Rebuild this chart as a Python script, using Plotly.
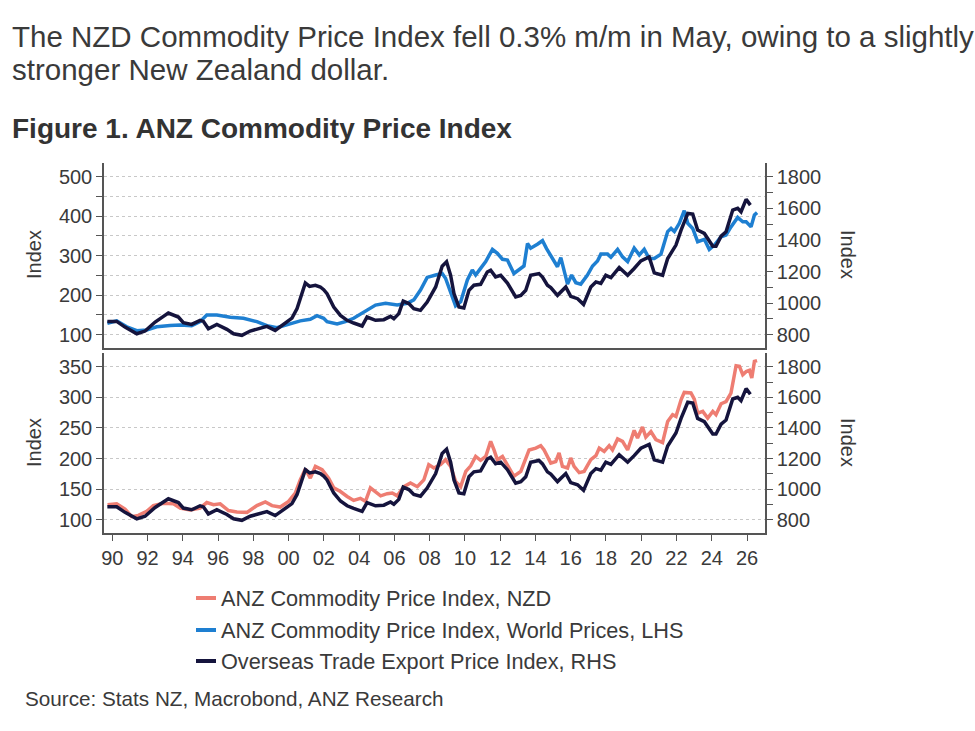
import plotly.graph_objects as go

# ---------------- data ----------------
oti_x = [1989.72, 1990.25, 1990.72, 1991.39, 1991.86, 1992.43, 1992.90, 1993.18, 1993.75, 1994.03,
         1994.50, 1994.98, 1995.17, 1995.45, 1995.93, 1996.50, 1996.88, 1997.35, 1997.82, 1998.39,
         1998.77, 1999.24, 1999.72, 2000.19, 2000.48, 2000.76, 2000.95, 2001.19, 2001.52, 2001.80,
         2001.99, 2002.18, 2002.56, 2002.94, 2003.32, 2003.69, 2004.17, 2004.45, 2004.93, 2005.40,
         2005.78, 2005.97, 2006.25, 2006.50, 2006.82, 2007.10, 2007.48, 2007.86, 2008.34, 2008.71,
         2008.96, 2009.19, 2009.38, 2009.66, 2009.94, 2010.23, 2010.51, 2010.89, 2011.27, 2011.46,
         2011.74, 2012.03, 2012.41, 2012.88, 2013.17, 2013.45, 2013.73, 2014.20, 2014.40, 2014.68,
         2014.87, 2015.25, 2015.72, 2016.00, 2016.39, 2016.73, 2017.14, 2017.43, 2017.71, 2017.99,
         2018.28, 2018.75, 2019.23, 2019.60, 2019.98, 2020.45, 2020.74, 2021.21, 2021.50, 2021.97,
         2022.26, 2022.64, 2022.92, 2023.20, 2023.58, 2024.06, 2024.24, 2024.53, 2024.81, 2025.19,
         2025.47, 2025.66, 2025.95, 2026.19]
oti_y = [884, 884, 848, 806, 823, 880, 916, 937, 912, 876,
         865, 891, 884, 838, 865, 834, 806, 796, 823, 842,
         853, 827, 865, 905, 965, 1070, 1127, 1106, 1113, 1102,
         1085, 1060, 975, 922, 891, 874, 855, 912, 891, 895,
         916, 901, 933, 1013, 997, 965, 954, 1007, 1102, 1233,
         1261, 1176, 1060, 975, 969, 1081, 1113, 1119, 1197, 1208,
         1166, 1176, 1127, 1039, 1049, 1081, 1176, 1187, 1165, 1113,
         1098, 1049, 1102, 1043, 1028, 992, 1102, 1134, 1124, 1176,
         1162, 1225, 1176, 1219, 1267, 1292, 1191, 1176, 1282, 1367,
         1462, 1568, 1563, 1462, 1441, 1360, 1360, 1424, 1451, 1589,
         1600, 1578, 1657, 1620]

world_x = [1989.72, 1990.25, 1990.82, 1991.39, 1991.95, 1992.52, 1993.28, 1993.85, 1994.50, 1994.98,
           1995.36, 1995.93, 1996.69, 1997.44, 1998.20, 1998.77, 1999.34, 2000.10, 2000.66, 2001.23,
           2001.61, 2001.99, 2002.18, 2002.75, 2003.22, 2003.69, 2004.26, 2004.93, 2005.50, 2006.16,
           2006.73, 2007.10, 2007.48, 2007.86, 2008.34, 2008.71, 2008.90, 2009.19, 2009.47, 2009.76,
           2010.14, 2010.42, 2010.61, 2010.89, 2011.18, 2011.56, 2011.84, 2012.13, 2012.41, 2012.78,
           2013.17, 2013.35, 2013.55, 2013.73, 2014.11, 2014.40, 2014.63, 2014.97, 2015.25, 2015.44,
           2015.63, 2015.82, 2016.05, 2016.29, 2016.57, 2016.95, 2017.24, 2017.52, 2017.71, 2018.09,
           2018.28, 2018.66, 2018.94, 2019.23, 2019.60, 2019.89, 2020.17, 2020.45, 2020.74, 2021.12,
           2021.50, 2021.69, 2021.88, 2022.16, 2022.44, 2022.64, 2022.92, 2023.20, 2023.58, 2023.86,
           2024.15, 2024.53, 2024.81, 2025.09, 2025.47, 2025.76, 2025.95, 2026.23, 2026.42, 2026.57]
world_y = [129, 135, 120, 110, 112, 120, 123, 124.5, 123, 133,
           150, 150, 144, 141.5, 133, 123, 117.7, 129, 135, 139,
           148, 141.5, 133, 127, 133, 141.5, 158, 175, 179.5, 175,
           179.5, 188, 213, 245, 251, 255, 243, 205, 173, 183.5,
           238.5, 264, 251, 268, 285, 316, 306, 291, 289, 255,
           268, 274, 331, 319, 329, 338, 318, 293, 272, 295,
           264, 228, 251, 231.6, 228, 251, 274, 286.6, 304, 304,
           296, 316, 297, 285, 319, 302, 316, 293, 293, 304,
           361, 369, 361, 382, 414, 382, 369, 335.5, 341.5, 316,
           327, 348, 352, 373, 397, 386, 386, 373, 403, 409]

nzd_x = [1989.73, 1990.25, 1990.72, 1991.10, 1991.48, 1991.95, 1992.33, 1992.90, 1993.47, 1993.85,
         1994.41, 1994.98, 1995.36, 1995.74, 1996.12, 1996.59, 1997.07, 1997.64, 1998.20, 1998.68,
         1999.06, 1999.53, 2000.00, 2000.38, 2000.66, 2000.95, 2001.23, 2001.52, 2001.90, 2002.27,
         2002.56, 2002.94, 2003.32, 2003.69, 2004.07, 2004.36, 2004.64, 2004.93, 2005.22, 2005.59,
         2005.88, 2006.16, 2006.54, 2006.91, 2007.30, 2007.67, 2007.95, 2008.24, 2008.62, 2008.90,
         2009.19, 2009.47, 2009.76, 2010.05, 2010.33, 2010.61, 2010.89, 2011.18, 2011.46, 2011.65,
         2011.84, 2012.13, 2012.41, 2012.78, 2013.17, 2013.45, 2013.64, 2014.02, 2014.30, 2014.49,
         2014.87, 2015.15, 2015.34, 2015.53, 2015.82, 2016.00, 2016.19, 2016.48, 2016.76, 2017.14,
         2017.43, 2017.62, 2017.90, 2018.18, 2018.37, 2018.66, 2018.94, 2019.23, 2019.60, 2019.79,
         2020.07, 2020.26, 2020.55, 2020.83, 2021.21, 2021.50, 2021.78, 2021.97, 2022.26, 2022.44,
         2022.82, 2023.01, 2023.20, 2023.49, 2023.77, 2024.06, 2024.24, 2024.53, 2024.81, 2025.09,
         2025.38, 2025.57, 2025.76, 2025.95, 2026.14, 2026.27, 2026.42, 2026.57]
nzd_y = [124.5, 126, 117.5, 105, 107, 113.6, 123, 127, 126, 119,
         116, 119, 128, 124.5, 126, 115, 112.6, 112, 123, 129,
         123, 120.7, 130, 143.6, 165, 183, 168, 187, 181.7, 168,
         152, 146, 138, 131.6, 135, 130, 152, 146, 139, 142.5,
         143.6, 139, 154, 160, 154, 165, 190, 184.5, 190, 198,
         187, 162.6, 154, 179, 188, 203.4, 197, 203.4, 228, 214,
         198, 203.4, 190, 171, 179, 198, 214, 217, 221, 214,
         192.6, 195, 209, 187, 184.5, 201, 187, 177, 179, 198,
         204.6, 217, 211.6, 221, 214, 232, 228, 214, 246, 233.5,
         251.5, 235, 244, 231, 226, 260.6, 271.6, 268.8, 296, 308,
         307, 297, 274, 277, 266, 277, 271.6, 289.5, 293, 307,
         351.6, 350.5, 337, 342, 344, 331.5, 358.7, 360]

x_tick_years = list(range(1990, 2027, 2))
x_tick_labels = [f"{y % 100:02d}" for y in x_tick_years]

top_left_ticks = [100, 150, 200, 250, 300, 350, 400, 450, 500]
top_left_labels = ["100", "", "200", "", "300", "", "400", "", "500"]
bot_left_ticks = [100, 150, 200, 250, 300, 350]
bot_left_labels = ["100", "150", "200", "250", "300", "350"]
right_ticks = list(range(800, 1801, 100))
right_labels = [str(v) if v % 200 == 0 else "" for v in right_ticks]

series_names = ["ANZ Commodity Price Index, NZD",
                "ANZ Commodity Price Index, World Prices, LHS",
                "Overseas Trade Export Price Index, RHS"]

title_line1 = "The NZD Commodity Price Index fell 0.3% m/m in May, owing to a slightly"
title_line2 = "stronger New Zealand dollar."
fig_heading = "Figure 1. ANZ Commodity Price Index"
source_text = "Source: Stats NZ, Macrobond, ANZ Research"

# ---------------- style ----------------
C_NZD = "#EE7D72"
C_WORLD = "#1E7FD1"
C_OTI = "#15143D"
AX = "#555555"
TXT = "#3a3a3a"
FONT = "Liberation Sans, Arial, sans-serif"

W, H = 975, 731
L, R, T, B = 104, 765, 163, 533
PW, PH = R - L, B - T


def px(x):
    return (x - L) / PW


def py(y):
    return (B - y) / PH


fig = go.Figure()
lw = 3.5
fig.add_trace(go.Scatter(x=world_x, y=world_y, mode="lines", line=dict(color=C_WORLD, width=lw),
                         xaxis="x", yaxis="y", name=series_names[1], showlegend=False))
fig.add_trace(go.Scatter(x=oti_x, y=oti_y, mode="lines", line=dict(color=C_OTI, width=lw),
                         xaxis="x", yaxis="y2", name=series_names[2], showlegend=False))
fig.add_trace(go.Scatter(x=nzd_x, y=nzd_y, mode="lines", line=dict(color=C_NZD, width=lw),
                         xaxis="x2", yaxis="y3", name=series_names[0], showlegend=False))
fig.add_trace(go.Scatter(x=oti_x, y=oti_y, mode="lines", line=dict(color=C_OTI, width=lw),
                         xaxis="x2", yaxis="y4", name=series_names[2], showlegend=False))

xr = [1989.53, 2027.02]
tickfont = dict(family=FONT, size=20, color=TXT)
common_y = dict(showline=True, linecolor=AX, linewidth=1.5, ticks="outside", ticklen=6,
                tickcolor=AX, tickwidth=1.2, tickfont=tickfont, zeroline=False, fixedrange=True)
top_dom = [py(348), 1]
bot_dom = [0, py(353)]

fig.update_layout(
    width=W, height=H,
    margin=dict(l=L, r=W - R, t=T, b=H - B),
    paper_bgcolor="white", plot_bgcolor="white",
    showlegend=False,
    xaxis=dict(domain=[0, 1], anchor="y", range=xr, showticklabels=False, showgrid=False,
               showline=True, linecolor=AX, linewidth=1.5, ticks="", zeroline=False),
    xaxis2=dict(domain=[0, 1], anchor="y3", range=xr, tickvals=x_tick_years, ticktext=x_tick_labels,
                showgrid=False, showline=True, linecolor=AX, linewidth=1.5, ticks="outside",
                ticklen=6, tickcolor=AX, tickwidth=1.2, tickfont=tickfont, zeroline=False),
    yaxis=dict(domain=top_dom, anchor="x", range=[66.3, 534.7], tickvals=top_left_ticks,
               ticktext=top_left_labels, showgrid=True, gridcolor="#c8c8c8", griddash="dot",
               gridwidth=1, **common_y),
    yaxis2=dict(overlaying="y", side="right", anchor="x", range=[715.75, 1886.75],
                tickvals=right_ticks, ticktext=right_labels, showgrid=False, **common_y),
    yaxis3=dict(domain=bot_dom, anchor="x2", range=[78.3, 372.4], tickvals=bot_left_ticks,
                ticktext=bot_left_labels, showgrid=True, gridcolor="#c8c8c8", griddash="dot",
                gridwidth=1, **common_y),
    yaxis4=dict(overlaying="y3", side="right", anchor="x2", range=[713.2, 1889.6],
                tickvals=right_ticks, ticktext=right_labels, showgrid=False, **common_y),
)

ann = []


def text(x, y, s, size, xanchor="left", angle=0, bold=False, color=TXT):
    ann.append(dict(xref="paper", yref="paper", x=px(x), y=py(y), text=(f"<b>{s}</b>" if bold else s),
                    showarrow=False, xanchor=xanchor, yanchor="middle", textangle=angle,
                    font=dict(family=FONT, size=size, color=color)))


text(10, 37, title_line1, 29.5)
text(10, 70, title_line2, 29.5)
text(10, 128, fig_heading, 28, bold=True, color="#333333")
# axis titles
text(34, 255, "Index", 20, xanchor="center", angle=-90)
text(34, 443, "Index", 20, xanchor="center", angle=-90)
text(848, 255, "Index", 20, xanchor="center", angle=90)
text(848, 443, "Index", 20, xanchor="center", angle=90)
# legend
legend_rows = [(598, C_NZD), (630, C_WORLD), (661, C_OTI)]
shapes = []
for (yy, col), name in zip(legend_rows, series_names):
    shapes.append(dict(type="line", xref="paper", yref="paper", x0=px(196), x1=px(216),
                       y0=py(yy), y1=py(yy), line=dict(color=col, width=4)))
    text(219, yy, name, 21.7)
text(23, 698, source_text, 20.7)

fig.update_layout(annotations=ann, shapes=shapes)
fig.write_html("out.html")
